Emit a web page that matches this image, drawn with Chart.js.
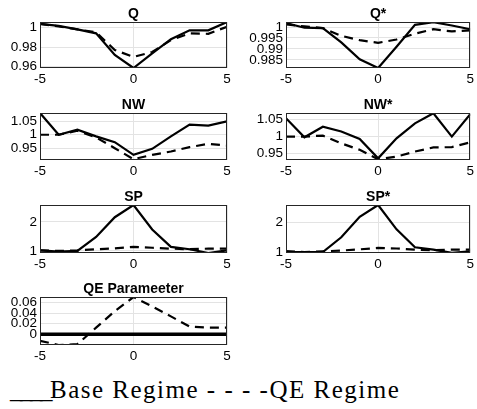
<!DOCTYPE html>
<html>
<head>
<meta charset="utf-8">
<script src="https://cdn.jsdelivr.net/npm/chart.js@4/dist/chart.umd.min.js"></script>
<style>
  body { margin: 0; background: #fff; }
  #wrap { position: relative; width: 477px; height: 409px; overflow: hidden; background: #fff; }
  canvas { position: absolute; }
  #legend {
    position: absolute; left: 10px; top: 377px; line-height: 25px;
    color: #000; white-space: pre; letter-spacing: 1.5px;
  }
  #legend span { letter-spacing: -2.5px; }
</style>
</head>
<body>
<div id="wrap">
  <canvas id="cQ" width="238" height="88" style="left:0;top:0"></canvas>
  <canvas id="cQs" width="239" height="88" style="left:238px;top:0"></canvas>
  <canvas id="cNW" width="238" height="89" style="left:0;top:91px"></canvas>
  <canvas id="cNWs" width="239" height="89" style="left:238px;top:91px"></canvas>
  <canvas id="cSP" width="238" height="90" style="left:0;top:183px"></canvas>
  <canvas id="cSPs" width="239" height="90" style="left:238px;top:183px"></canvas>
  <canvas id="cQE" width="238" height="90" style="left:0;top:275px"></canvas>
  <div id="legend" style="font-family:'Liberation Serif';font-size:25px"><span>____</span>Base Regime - - - -QE Regime</div>
</div>
<script>
// horizon (periods)
const periods = [-5, -4, -3, -2, -1, 0, 1, 2, 3, 4, 5];

// base regime (solid) and QE regime (dashed)
const qBase = [1.0036, 1.0015, 0.998, 0.994, 0.972, 0.9587, 0.9735, 0.988, 0.997, 0.997, 1.0055];
const qQE = [1.0036, 1.001, 0.998, 0.995, 0.977, 0.970, 0.975, 0.987, 0.994, 0.9935, 1.0007];

const qStarBase = [1.0018, 0.9997, 0.9995, 0.993, 0.9853, 0.9813, 0.991, 1.001, 1.0022, 1.0007, 0.999];
const qStarQE = [1.0012, 1.0003, 0.9995, 0.996, 0.994, 0.9928, 0.9943, 0.997, 0.999, 0.998, 0.9985];

const nwBase = [1.081, 1.0, 1.019, 0.994, 0.9725, 0.925, 0.9475, 0.994, 1.0375, 1.034, 1.05];
const nwQE = [1.0, 1.0, 1.015, 0.99, 0.95, 0.909, 0.925, 0.9375, 0.954, 0.966, 0.96];

const nwStarBase = [1.054, 0.998, 1.029, 1.015, 0.993, 0.936, 0.995, 1.039, 1.069, 1.0, 1.066];
const nwStarQE = [1.0, 1.0, 1.003, 0.98, 0.961, 0.933, 0.941, 0.956, 0.968, 0.969, 0.983];

const spBase = [1.02, 0.98, 1.0, 1.48, 2.16, 2.58, 1.74, 1.14, 1.06, 0.93, 1.02];
const spQE = [1.02, 1.0, 1.02, 1.06, 1.09, 1.14, 1.11, 1.08, 1.06, 1.08, 1.08];

const spStarBase = [1.0, 1.0, 1.0, 1.5, 2.2, 2.6, 1.77, 1.16, 1.08, 0.97, 1.02];
const spStarQE = [1.03, 1.0, 1.02, 1.05, 1.09, 1.14, 1.12, 1.08, 1.06, 1.08, 1.08];

const qeBase = [0, 0, 0, 0, 0, 0, 0, 0, 0, 0, 0];
const qeQE = [-0.0125, -0.0206, -0.019, 0.0125, 0.044, 0.071, 0.053, 0.034, 0.0144, 0.0125, 0.0125];

// tick labels for each panel
const xTicks = [-5, 0, 5];
const qTicks = [0.96, 0.98, 1];
const qStarTicks = [0.985, 0.99, 0.995, 1];
const nwTicks = [0.95, 1, 1.05];
const spTicks = [1, 2];
const qeTicks = [0, 0.02, 0.04, 0.06];

const tickFont = { family: "'Liberation Sans', Arial, sans-serif", size: 13.5 };

// box around the axes + title over the plot area
const framePlugin = {
    id: 'frame',
    afterDraw(chart, args, opts) {
        const { ctx, chartArea: a } = chart;
        ctx.save();
        ctx.strokeStyle = '#262626';
        ctx.lineWidth = 1;
        ctx.strokeRect(Math.round(a.left) + 0.5, Math.round(a.top) + 0.5,
            Math.round(a.right - a.left) - 1, Math.round(a.bottom - a.top) - 1);
        ctx.fillStyle = '#000';
        ctx.font = "bold 14px 'Liberation Sans', Arial, sans-serif";
        ctx.textAlign = 'center';
        ctx.textBaseline = 'alphabetic';
        ctx.fillText(opts.text, (a.left + a.right) / 2, a.top - 4);
        ctx.restore();
    }
};

function makePanel(id, title, base, qe, yMin, yMax, yTicks, leftCol, thickBase) {
    const ctx = document.getElementById(id);
    return new Chart(ctx, {
        type: 'line',
        data: {
            datasets: [{
                data: periods.map((p, i) => ({ x: p, y: base[i] })),
                borderColor: '#000',
                borderWidth: thickBase ? 3.5 : 2.2,
                pointRadius: 0,
                tension: 0
            }, {
                data: periods.map((p, i) => ({ x: p, y: qe[i] })),
                borderColor: '#000',
                borderWidth: 2.2,
                borderDash: [9, 6],
                pointRadius: 0,
                tension: 0
            }]
        },
        options: {
            responsive: false,
            animation: false,
            devicePixelRatio: 1,
            layout: { padding: { top: 22, right: leftCol ? 11 : 3, left: 0, bottom: 0 } },
            plugins: {
                legend: { display: false },
                tooltip: { enabled: false },
                frame: { text: title }
            },
            scales: {
                x: {
                    type: 'linear',
                    min: -5,
                    max: 5,
                    afterBuildTicks: s => { s.ticks = xTicks.map(v => ({ value: v })); },
                    afterFit: s => { s.height = 20; },
                    ticks: { font: tickFont, color: '#000', padding: 3, maxRotation: 0, autoSkip: false, callback: v => String(v) },
                    grid: { color: '#e3e3e3', drawTicks: false },
                    border: { display: false }
                },
                y: {
                    min: yMin,
                    max: yMax,
                    afterBuildTicks: s => { s.ticks = yTicks.map(v => ({ value: v })); },
                    afterFit: s => { s.width = leftCol ? 40 : 48; },
                    ticks: { font: tickFont, color: '#000', padding: 3, autoSkip: false, callback: v => String(v) },
                    grid: { color: '#e3e3e3', drawTicks: false },
                    border: { display: false }
                }
            }
        },
        plugins: [framePlugin]
    });
}

makePanel('cQ', 'Q', qBase, qQE, 0.9587, 1.0055, qTicks, true);
makePanel('cQs', 'Q*', qStarBase, qStarQE, 0.9813, 1.0023, qStarTicks, false);
makePanel('cNW', 'NW', nwBase, nwQE, 0.906, 1.081, nwTicks, true);
makePanel('cNWs', 'NW*', nwStarBase, nwStarQE, 0.931, 1.0696, nwTicks, false);
makePanel('cSP', 'SP', spBase, spQE, 0.93, 2.58, spTicks, true);
makePanel('cSPs', 'SP*', spStarBase, spStarQE, 0.966, 2.6, spTicks, false);
makePanel('cQE', 'QE Parameeter', qeBase, qeQE, -0.0206, 0.071, qeTicks, true, true);
</script>
</body>
</html>
